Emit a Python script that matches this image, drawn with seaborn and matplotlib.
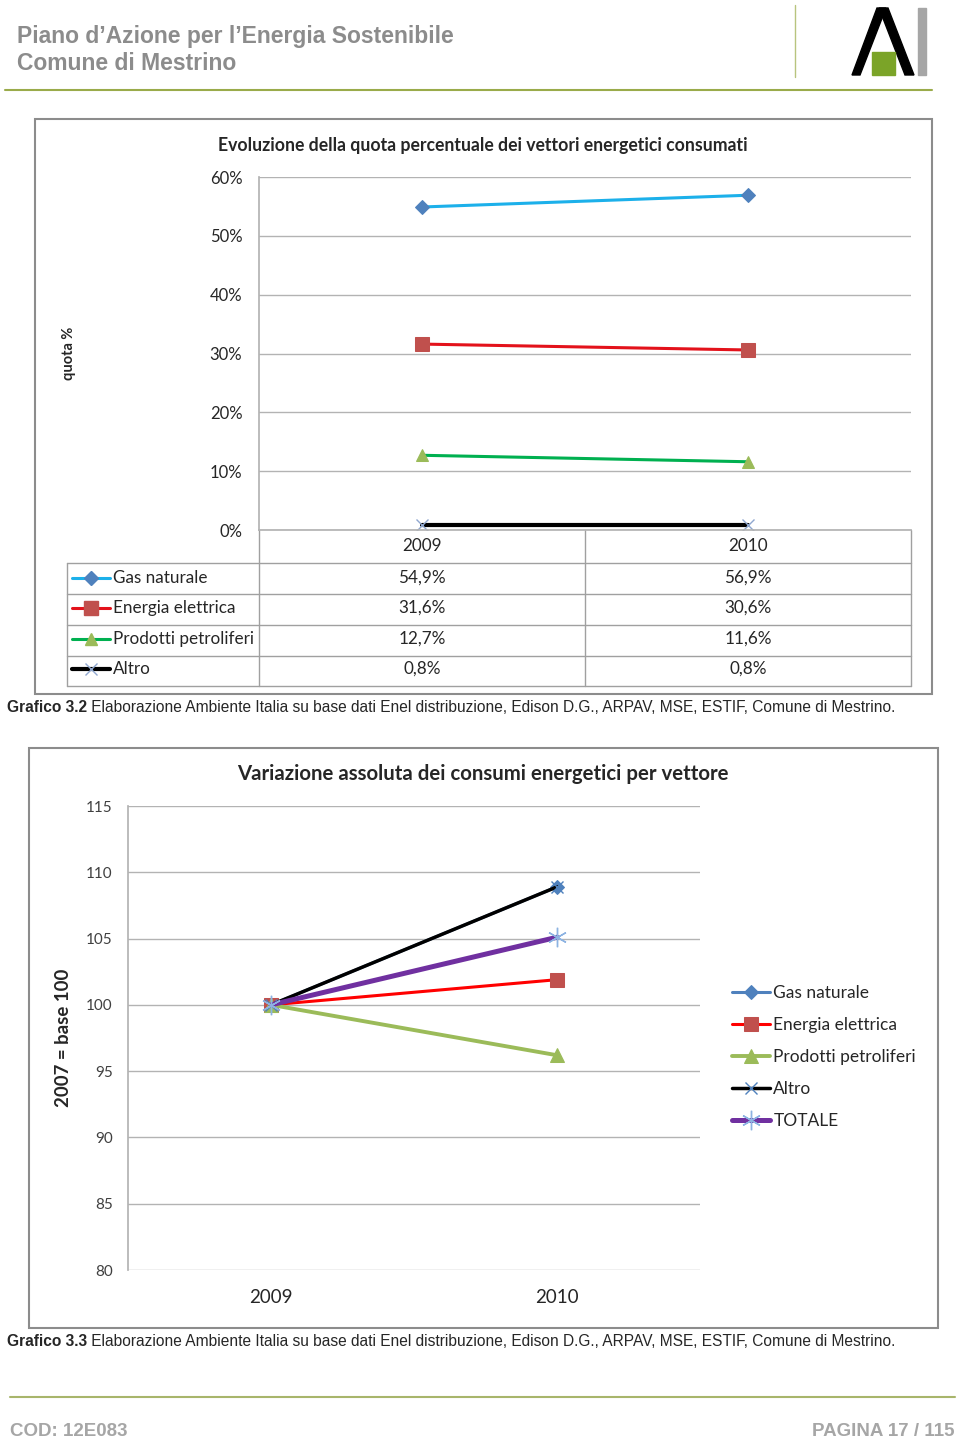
import numpy as np
import matplotlib
matplotlib.use("Agg")
import matplotlib.pyplot as plt
import matplotlib.transforms as mtransforms
from matplotlib.patches import Rectangle, Polygon
import seaborn as sns

# ---- data ----
anni = ['2009', '2010']
vettori = ['Gas naturale', 'Energia elettrica', 'Prodotti petroliferi', 'Altro']
quota_gas = [54.9, 56.9]
quota_ele = [31.6, 30.6]
quota_pet = [12.7, 11.6]
quota_altro = [0.8, 0.8]

serie2 = ['Gas naturale', 'Energia elettrica', 'Prodotti petroliferi', 'Altro', 'TOTALE']
var_gas = [100, 108.9]
var_ele = [100, 101.9]
var_pet = [100, 96.2]
var_altro = [100, 108.9]
var_tot = [100, 105.1]

y_ticks1 = [0, 10, 20, 30, 40, 50, 60]
y_ticks2 = [80, 85, 90, 95, 100, 105, 110, 115]

sns.set_theme(style="white")
plt.rcParams['font.family'] = ['Lato', 'DejaVu Sans']

W, H = 960, 1439
fig = plt.figure(figsize=(W / 100, H / 100), dpi=100)

def box(l, t, r, b):
    return [l / W, 1 - b / H, (r - l) / W, (b - t) / H]

# background axes in pixel units for page decoration
bg = fig.add_axes([0, 0, 1, 1], zorder=0)
bg.set_xlim(0, W)
bg.set_ylim(H, 0)
bg.axis('off')

grey_txt = '#8c8c8c'
arial = ['Liberation Sans', 'DejaVu Sans']
bg.text(17, 37, "Piano d\u2019Azione per l\u2019Energia Sostenibile", fontsize=16.5,
        fontweight='bold', color=grey_txt, va='center', family=arial)
bg.text(17, 64, "Comune di Mestrino", fontsize=16.5, fontweight='bold',
        color=grey_txt, va='center', family=arial)
bg.plot([795, 795], [5, 77], color='#b8c47e', lw=1)
bg.plot([5, 932], [90, 90], color='#9aab4a', lw=1.5)
# logo
bg.add_patch(Polygon([(877, 8), (886, 8), (860, 75), (852, 75)], color='black'))
bg.add_patch(Polygon([(879, 8), (888, 8), (914, 75), (905, 75)], color='black'))
bg.add_patch(Rectangle((872, 52), 23, 23, color='#7ba428'))
bg.add_patch(Rectangle((918, 8), 8, 67, color='#a6a6a6'))

# chart frames
bg.add_patch(Rectangle((35, 119), 897, 575, fill=False, ec='#8c8c8c', lw=1.5))
bg.add_patch(Rectangle((29, 748), 909, 580, fill=False, ec='#8c8c8c', lw=1.5))

txt = '#262626'
grid_c = '#b3b3b3'

# ---------- chart 1 ----------
ax1 = fig.add_axes(box(259, 177, 911, 530), zorder=2)
ax1.set_facecolor('none')
stile1 = {
    'Gas naturale': dict(color='#1cb0ea', marker='D', ms=7, mfc='#4f81bd', mec='#4f81bd', lw=2.2),
    'Energia elettrica': dict(color='#e3121b', marker='s', ms=9.5, mfc='#c0504d', mec='#c0504d', lw=2.2),
    'Prodotti petroliferi': dict(color='#00b050', marker='^', ms=9, mfc='#9bbb59', mec='#9bbb59', lw=2.2),
    'Altro': dict(color='black', marker='x', ms=9, mfc='#8fa7cf', mec='#8fa7cf', mew=1, lw=3),
}
quote = [quota_gas, quota_ele, quota_pet, quota_altro]
for nome, vals in zip(vettori, quote):
    sns.lineplot(x=anni, y=vals, ax=ax1, **stile1[nome])
ax1.set_xlim(-0.5, 1.5)
ax1.set_ylim(0, 60)
ax1.set_yticks(y_ticks1)
ax1.set_yticklabels([f"{v}%" for v in y_ticks1])
ax1.yaxis.grid(True, color=grid_c, lw=1)
for s in ['top', 'right']:
    ax1.spines[s].set_visible(False)
ax1.spines['left'].set_color(grid_c)
ax1.spines['bottom'].set_color(grid_c)
ax1.tick_params(axis='y', length=0, pad=12, labelsize=12, labelcolor=txt)
ax1.tick_params(axis='x', length=0, pad=6, labelsize=12.3, labelcolor=txt)
ax1.set_ylabel('quota %', fontsize=10.5, fontweight='bold', color=txt, labelpad=96)
fig.text(483 / W, 1 - 145 / H, 'Evoluzione della quota percentuale dei vettori energetici consumati',
         ha='center', va='center', fontsize=12.7, fontweight='bold', color=txt)

# data table under chart 1
tcol = '#a0a0a0'
row_y = [578, 608, 639, 669]
for y in [563, 594, 625, 656, 686]:
    bg.plot([67, 911], [y, y], color=tcol, lw=1)
bg.plot([67, 67], [563, 686], color=tcol, lw=1)
bg.plot([259, 259], [530, 686], color=tcol, lw=1)
bg.plot([585, 585], [530, 686], color=tcol, lw=1)
bg.plot([911, 911], [530, 686], color=tcol, lw=1)
trans = mtransforms.blended_transform_factory(ax1.transData, bg.transData)
mk_keys = ('marker', 'ms', 'mfc', 'mec', 'mew')
for nome, vals, y in zip(vettori, quote, row_y):
    st = stile1[nome]
    bg.plot([72, 110], [y, y], color=st['color'], lw=st['lw'])
    bg.plot([91], [y], ls='none', **{k: v for k, v in st.items() if k in mk_keys})
    bg.text(113, y, nome, va='center', ha='left', fontsize=12.3, color=txt)
    for i, v in enumerate(vals):
        bg.text(i, y, f"{v:.1f}%".replace('.', ','), transform=trans,
                ha='center', va='center', fontsize=12.3, color=txt)

t1 = bg.text(7, 707, "Grafico 3.2", fontsize=11.2, fontweight='bold', va='center', family=arial)
bg.annotate(" Elaborazione Ambiente Italia su base dati Enel distribuzione, Edison D.G., ARPAV, MSE, ESTIF, Comune di Mestrino.",
            xy=(1, 0.5), xycoords=t1, va='center', fontsize=11.2, family=arial)

# ---------- chart 2 ----------
ax2 = fig.add_axes(box(128, 806, 700, 1270), zorder=2)
ax2.set_facecolor('none')
stile2 = {
    'Gas naturale': dict(color='#4f81bd', marker='D', ms=7, mfc='#4f81bd', mec='#4f81bd', lw=2.2),
    'Energia elettrica': dict(color='#ff0000', marker='s', ms=9.5, mfc='#c0504d', mec='#c0504d', lw=2.2),
    'Prodotti petroliferi': dict(color='#9bbb59', marker='^', ms=9.5, mfc='#9bbb59', mec='#9bbb59', lw=2.8),
    'Altro': dict(color='black', marker='x', ms=9, mfc='#4f81bd', mec='#4f81bd', mew=1, lw=2.5),
    'TOTALE': dict(color='#7030a0', marker=(6, 2, 0), ms=14, mec='#8db3e2', mew=1, lw=3.6),
}
variazioni = [var_gas, var_ele, var_pet, var_altro, var_tot]
for nome, vals in zip(serie2, variazioni):
    sns.lineplot(x=anni, y=vals, ax=ax2, label=nome, **stile2[nome])
ax2.set_xlim(-0.5, 1.5)
ax2.set_ylim(80, 115)
ax2.set_yticks(y_ticks2)
ax2.yaxis.grid(True, color=grid_c, lw=1)
for s in ['top', 'right', 'bottom']:
    ax2.spines[s].set_visible(False)
ax2.spines['left'].set_color(grid_c)
ax2.tick_params(axis='y', length=0, pad=11, labelsize=11, labelcolor='#404040')
ax2.tick_params(axis='x', length=0, pad=14, labelsize=13.5, labelcolor=txt)
ax2.set_ylabel('2007 = base 100', fontsize=13.4, fontweight='bold', color=txt, labelpad=10)
ax2.legend(loc='center left', bbox_to_anchor=(716 / W, 1 - 1057 / H), bbox_transform=fig.transFigure,
           frameon=False, fontsize=12.5, labelspacing=0.92, handlelength=2.2, handletextpad=0.2,
           labelcolor=txt)
fig.text(483 / W, 1 - 774 / H, 'Variazione assoluta dei consumi energetici per vettore',
         ha='center', va='center', fontsize=14.7, fontweight='bold', color=txt)

t2 = bg.text(7, 1341, "Grafico 3.3", fontsize=11.2, fontweight='bold', va='center', family=arial)
bg.annotate(" Elaborazione Ambiente Italia su base dati Enel distribuzione, Edison D.G., ARPAV, MSE, ESTIF, Comune di Mestrino.",
            xy=(1, 0.5), xycoords=t2, va='center', fontsize=11.2, family=arial)

# footer
bg.plot([10, 955], [1397, 1397], color='#a8b56b', lw=1.5)
bg.text(10, 1431, "COD: 12E083", fontsize=13.5, fontweight='bold', color='#a6a6a6', va='center', family=arial)
bg.text(955, 1431, "PAGINA 17 / 115", fontsize=13.5, fontweight='bold', color='#a6a6a6',
        va='center', ha='right', family=arial)

fig.savefig('out.png', dpi=100)
